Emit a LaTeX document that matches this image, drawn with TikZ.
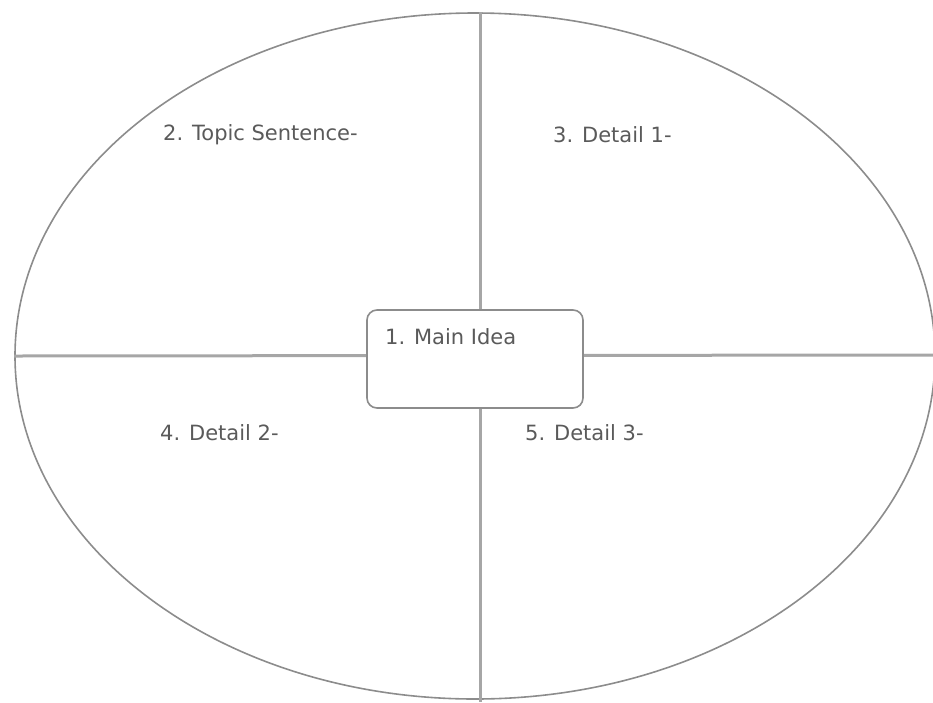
\documentclass[tikz,border=0pt]{standalone}
\usepackage{fontspec}
\setmainfont{DejaVu Sans}
\usetikzlibrary{shapes.geometric,positioning}
\definecolor{rim}{HTML}{8C8C8C}
\definecolor{bar}{HTML}{A6A6A6}
\definecolor{ink}{HTML}{5A5A5A}
\tikzset{
  lbl/.style={anchor=west, inner sep=0pt, text=ink, font=\fontsize{21}{24}\selectfont},
  cross/.style={draw=bar, line width=3pt}
}
\begin{document}
\begin{tikzpicture}[x=1pt, y=-1pt]
\useasboundingbox (0,0) rectangle (933,702);

\node [draw=rim, line width=1.6pt, ellipse, minimum width=920pt, minimum height=686pt, inner sep=0pt] (oval) at (475,356) {};

\coordinate (top) at (480,12);
\coordinate (bottom) at (480,702);
\coordinate (right) at (933,355);
\draw [cross] (top) -- (bottom);
\draw [cross] (oval.west) -- (right);

\node [draw=rim, line width=1.6pt, fill=white, rounded corners=10pt, minimum width=216pt, minimum height=98pt] (main) at (475,359) {};
\node [lbl] (idea) at (385,337) {1. Main Idea};

\node [lbl] (topic) at (163,135) {2. Topic Sentence-};
\node [lbl] (det1) at (553,135) {3. Detail 1-};
\node [lbl] (det2) at (160,433) {4. Detail 2-};
\node [lbl] (det3) at (525,433) {5. Detail 3-};

\end{tikzpicture}
\end{document}
